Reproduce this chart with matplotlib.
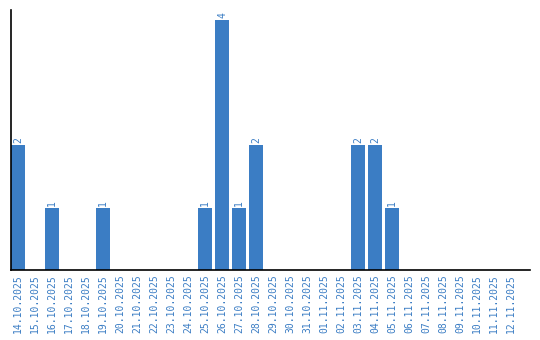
import matplotlib
matplotlib.use("Agg")
import matplotlib.pyplot as plt

dates = ["14.10.2025", "15.10.2025", "16.10.2025", "17.10.2025", "18.10.2025",
         "19.10.2025", "20.10.2025", "21.10.2025", "22.10.2025", "23.10.2025",
         "24.10.2025", "25.10.2025", "26.10.2025", "27.10.2025", "28.10.2025",
         "29.10.2025", "30.10.2025", "31.10.2025", "01.11.2025", "02.11.2025",
         "03.11.2025", "04.11.2025", "05.11.2025", "06.11.2025", "07.11.2025",
         "08.11.2025", "09.11.2025", "10.11.2025", "11.11.2025", "12.11.2025"]
counts = [2, 0, 1, 0, 0, 1, 0, 0, 0, 0, 0, 1, 4, 1, 2, 0, 0, 0, 0, 0,
          2, 2, 1, 0, 0, 0, 0, 0, 0, 0]

color = "#3b7dc4"
fig = plt.figure(figsize=(5.4, 3.4), dpi=100)
ax = fig.add_axes([11/540, 70/340, 519/540, 260/340])
x = list(range(len(dates)))
ax.bar(x, counts, width=0.82, color=color)
for xi, v in zip(x, counts):
    if v > 0:
        ax.text(xi, v + 0.03, str(v), rotation=90, ha="center", va="bottom",
                color=color, fontsize=7, family="DejaVu Sans Mono")
ax.set_xlim(-0.41, 30.1)
ax.set_ylim(0, 4.16)
ax.set_xticks(x)
ax.set_xticklabels(dates, rotation=90, color=color, fontsize=7, family="DejaVu Sans Mono")
ax.tick_params(axis="x", length=0, pad=3)
ax.set_yticks([])
for s in ["top", "right"]:
    ax.spines[s].set_visible(False)
ax.spines["left"].set_linewidth(1.2)
ax.spines["bottom"].set_linewidth(1.2)
fig.savefig("out.png", dpi=100)
